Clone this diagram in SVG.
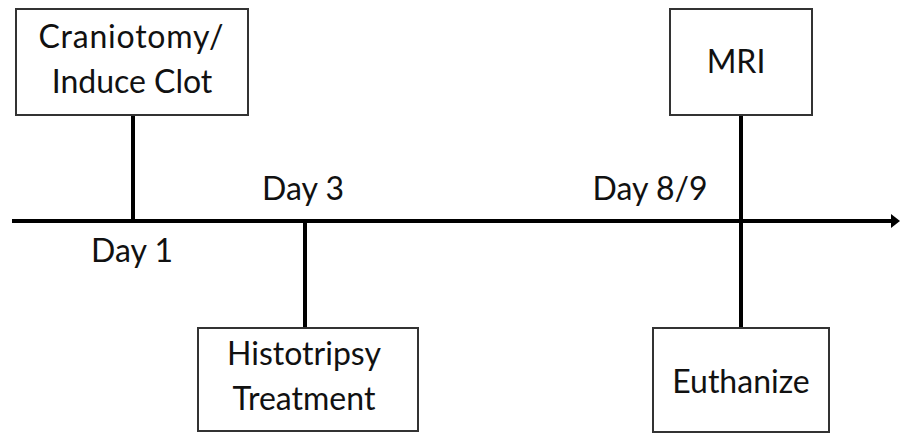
<svg xmlns="http://www.w3.org/2000/svg" width="901" height="435" viewBox="0 0 901 435">
<defs>
<style>
.box{fill:#fff;stroke:#333;stroke-width:2}
.ln{stroke:#000;stroke-width:4;fill:none}
text{font-family:Lato,"Open Sans","Liberation Sans",sans-serif;font-size:32px;fill:#111;text-anchor:middle}
</style>
<marker id="ah" markerWidth="9" markerHeight="14" refX="1" refY="7" orient="auto" markerUnits="userSpaceOnUse"><path d="M0,0 L9,7 L0,14 z" fill="#000"/></marker>
</defs>
<rect width="901" height="435" fill="#fff"/>
<g id="connectors">
<line class="ln" x1="12" y1="221" x2="892" y2="221" marker-end="url(#ah)"/>
<line class="ln" x1="133" y1="115" x2="133" y2="221"/>
<line class="ln" x1="305" y1="221" x2="305" y2="328"/>
<line class="ln" x1="741" y1="115" x2="741" y2="328"/>
</g>
<g id="craniotomy"><rect class="box" x="16" y="9" width="232" height="106"/><text x="131" y="48" textLength="185">Craniotomy/</text><text x="132" y="93">Induce Clot</text></g>
<g id="histotripsy"><rect class="box" x="198" y="328" width="220" height="103"/><text x="304" y="365">Histotripsy</text><text x="304" y="410">Treatment</text></g>
<g id="mri"><rect class="box" x="670" y="9" width="142" height="106"/><text x="736" y="73">MRI</text></g>
<g id="euthanize"><rect class="box" x="653" y="328" width="176" height="104"/><text x="741" y="393">Euthanize</text></g>
<g id="labels"><text x="132" y="262">Day 1</text><text x="303" y="200">Day 3</text><text x="650" y="200">Day 8/9</text></g>
</svg>
